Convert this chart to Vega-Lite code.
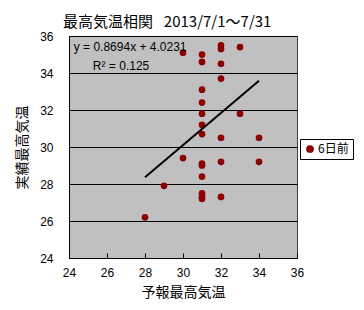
{
  "$schema": "https://vega.github.io/schema/vega-lite/v6.json",
  "width": 228,
  "height": 222,
  "autosize": {"type": "none"},
  "padding": {"left": 69, "top": 36, "right": 67, "bottom": 52},
  "background": "white",
  "config": {
    "view": {"fill": "#C0C0C0", "stroke": "#404040", "strokeWidth": 1},
    "font": "Liberation Sans"
  },
  "title": {
    "text": "最高気温相関\u2002 2013/7/1～7/31",
    "anchor": "start",
    "frame": "group",
    "dx": -6,
    "offset": 0,
    "fontSize": 15,
    "fontWeight": "normal",
    "font": "Noto Sans CJK JP",
    "color": "black"
  },
  "datasets": {
    "points": [
      {"forecast": 28, "actual": 26.2, "series": "6日前"},
      {"forecast": 29, "actual": 27.9, "series": "6日前"},
      {"forecast": 30, "actual": 35.1, "series": "6日前"},
      {"forecast": 30, "actual": 29.4, "series": "6日前"},
      {"forecast": 31, "actual": 35.0, "series": "6日前"},
      {"forecast": 31, "actual": 34.6, "series": "6日前"},
      {"forecast": 31, "actual": 33.1, "series": "6日前"},
      {"forecast": 31, "actual": 32.4, "series": "6日前"},
      {"forecast": 31, "actual": 31.8, "series": "6日前"},
      {"forecast": 31, "actual": 31.2, "series": "6日前"},
      {"forecast": 31, "actual": 30.7, "series": "6日前"},
      {"forecast": 31, "actual": 29.1, "series": "6日前"},
      {"forecast": 31, "actual": 29.0, "series": "6日前"},
      {"forecast": 31, "actual": 28.4, "series": "6日前"},
      {"forecast": 31, "actual": 27.5, "series": "6日前"},
      {"forecast": 31, "actual": 27.3, "series": "6日前"},
      {"forecast": 31, "actual": 27.2, "series": "6日前"},
      {"forecast": 32, "actual": 35.5, "series": "6日前"},
      {"forecast": 32, "actual": 35.3, "series": "6日前"},
      {"forecast": 32, "actual": 34.5, "series": "6日前"},
      {"forecast": 32, "actual": 33.7, "series": "6日前"},
      {"forecast": 32, "actual": 30.5, "series": "6日前"},
      {"forecast": 32, "actual": 29.2, "series": "6日前"},
      {"forecast": 32, "actual": 27.3, "series": "6日前"},
      {"forecast": 33, "actual": 35.4, "series": "6日前"},
      {"forecast": 33, "actual": 31.8, "series": "6日前"},
      {"forecast": 34, "actual": 30.5, "series": "6日前"},
      {"forecast": 34, "actual": 29.2, "series": "6日前"}
    ],
    "trend": [
      {"forecast": 28, "actual": 28.37},
      {"forecast": 34, "actual": 33.58}
    ],
    "eq": [
      {"forecast": 24.25, "actual": 35.4, "label": "y = 0.8694x + 4.0231"}
    ],
    "r2": [
      {"forecast": 26.74, "actual": 34.4, "label": "R² = 0.125"}
    ]
  },
  "encoding": {
    "x": {
      "field": "forecast", "type": "quantitative",
      "scale": {"domain": [24, 36], "nice": false, "zero": false},
      "axis": {
        "title": "予報最高気温",
        "titleFont": "Noto Sans CJK JP", "titleFontSize": 14, "titleFontWeight": "normal",
        "titleColor": "black", "titlePadding": 7,
        "values": [24, 26, 28, 30, 32, 34, 36],
        "labelOverlap": false,
        "grid": false, "domainColor": "black",
        "tickColor": "black", "tickSize": -5,
        "labelFontSize": 12, "labelColor": "black", "labelPadding": 14,
        "labelFlush": false
      }
    },
    "y": {
      "field": "actual", "type": "quantitative",
      "scale": {"domain": [24, 36], "nice": false, "zero": false},
      "axis": {
        "title": "実績最高気温",
        "titleFont": "Noto Sans CJK JP", "titleFontSize": 14, "titleFontWeight": "normal",
        "titleColor": "black", "titlePadding": 10,
        "values": [24, 26, 28, 30, 32, 34, 36],
        "labelOverlap": false,
        "grid": true, "gridColor": "black", "gridOpacity": 1, "gridWidth": 1,
        "ticks": false, "domainColor": "black",
        "labelFontSize": 12, "labelColor": "black", "labelPadding": 16,
        "labelFlush": false
      }
    }
  },
  "layer": [
    {
      "data": {"name": "points"},
      "mark": {"type": "point", "filled": true, "shape": "circle", "size": 45, "opacity": 1},
      "encoding": {
        "color": {
          "field": "series", "type": "nominal",
          "scale": {"range": ["#8B0000"]},
          "legend": {
            "title": null,
            "orient": "none",
            "legendX": 231,
            "legendY": 103,
            "padding": 4,
            "strokeColor": "black",
            "fillColor": "white",
            "symbolType": "circle",
            "symbolSize": 60,
            "labelFont": "Noto Sans CJK JP",
            "labelFontSize": 12,
            "labelColor": "black",
            "labelOffset": 2
          }
        }
      }
    },
    {
      "data": {"name": "trend"},
      "mark": {"type": "line", "color": "black", "strokeWidth": 2},
      "encoding": {}
    },
    {
      "data": {"name": "eq"},
      "mark": {"type": "text", "fontSize": 12, "color": "black", "baseline": "middle", "align": "left"},
      "encoding": {
        "text": {"field": "label"}
      }
    },
    {
      "data": {"name": "r2"},
      "mark": {"type": "text", "fontSize": 12, "color": "black", "baseline": "middle", "align": "center"},
      "encoding": {
        "text": {"field": "label"}
      }
    }
  ]
}
